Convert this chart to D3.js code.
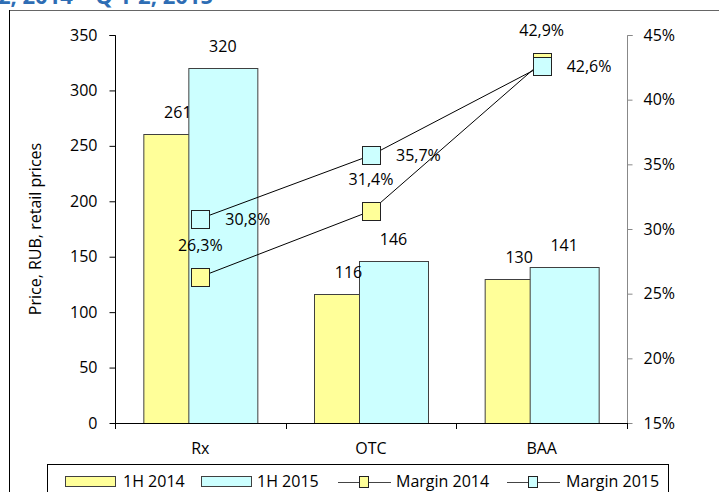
<!DOCTYPE html>
<html><head><meta charset="utf-8">
<script src="https://cdn.jsdelivr.net/npm/d3@7/dist/d3.min.js"></script>
<style>
html,body{margin:0;padding:0;background:#fff;overflow:hidden;}
svg{display:block;font-family:"Open Sans",sans-serif;}
</style></head>
<body>
<svg id="chart" width="719" height="492"></svg>
<script>
const categories = ["Rx", "OTC", "BAA"];
const price2014 = [261, 116, 130];
const price2015 = [320, 146, 141];
const margin2014 = [26.3, 31.4, 42.9];
const margin2015 = [30.8, 35.7, 42.6];
const leftTicks = [0, 50, 100, 150, 200, 250, 300, 350];
const rightTicks = [15, 20, 25, 30, 35, 40, 45];
const seriesNames = ["1H 2014", "1H 2015", "Margin 2014", "Margin 2015"];
const titleText = "Q 1-2, 2014 – Q 1-2, 2015";
const yTitle = "Price, RUB, retail prices";

const YELLOW = "#FFFF99", CYAN = "#CCFFFF", EDGE = "#404040";
const FS = 16;
const svg = d3.select("#chart");

// partial title at top (cut off in the reference)
svg.append("text").attr("x", 213).attr("y", 4).attr("text-anchor", "end")
  .attr("font-weight", "bold").attr("font-size", 22).attr("fill", "#2E6DB4").text(titleText);

// frame
svg.append("line").attr("x1", 9).attr("x2", 719).attr("y1", 10.5).attr("y2", 10.5).attr("stroke", "#666");
svg.append("line").attr("x1", 9.5).attr("x2", 9.5).attr("y1", 10).attr("y2", 492).attr("stroke", "#000");

const x0 = 115, x1 = 627, yTop = 35, yBot = 423;
const x = d3.scaleBand().domain(categories).range([x0, x1]);
const yL = d3.scaleLinear().domain([0, 350]).range([yBot, yTop]);
const yR = d3.scaleLinear().domain([15, 45]).range([yBot, yTop]);

const barW = 69, overlap = 24;
const groupW = 2 * barW - overlap;
const bx = (c, i) => x(c) + x.bandwidth() / 2 - groupW / 2 + i * (barW - overlap);

// bars
[[price2014, YELLOW], [price2015, CYAN]].forEach(([vals, col], i) => {
  svg.append("g").selectAll("rect").data(categories).join("rect")
    .attr("x", c => bx(c, i) + 0.5).attr("width", barW)
    .attr("y", (c, k) => Math.round(yL(vals[k])) + 0.5)
    .attr("height", (c, k) => yBot - Math.round(yL(vals[k])))
    .attr("fill", col).attr("stroke", EDGE).attr("stroke-width", 1);
});
// bar labels
[[price2014, 0], [price2015, 1]].forEach(([vals, i]) => {
  svg.append("g").selectAll("text").data(categories).join("text")
    .attr("x", c => bx(c, i) + barW / 2).attr("y", (c, k) => yL(vals[k]) - 16)
    .attr("text-anchor", "middle").attr("font-size", FS).attr("fill", "#000")
    .text((c, k) => vals[k]);
});

function styleAxis(g) {
  g.attr("font-family", null).attr("font-size", null);
  g.selectAll("text").attr("font-size", FS).attr("fill", "#000");
}

// axes
const gL = svg.append("g").attr("transform", `translate(${x0 + 0.5},0)`)
  .call(d3.axisLeft(yL).tickValues(leftTicks).tickSize(6).tickPadding(12));
gL.select(".domain").attr("stroke", "#000").attr("d", `M-6,${yTop + 0.5}H0V${yBot + 5}`);
styleAxis(gL);

const gR = svg.append("g").attr("transform", `translate(${x1 + 0.5},0)`)
  .call(d3.axisRight(yR).tickValues(rightTicks).tickFormat(d => d + "%").tickSize(5).tickPadding(11));
gR.select(".domain").attr("stroke", "#888").attr("d", `M5,${yTop + 0.5}H0V${yBot + 5}`);
gR.selectAll(".tick line").attr("stroke", "#888");
styleAxis(gR);

const gX = svg.append("g").attr("transform", `translate(0,${yBot + 0.5})`)
  .call(d3.axisBottom(x).tickSize(0).tickPadding(19));
gX.select(".domain").attr("stroke", "#000").attr("d", `M${x0},0H${x1}`);
styleAxis(gX);
// category boundary ticks
const bounds = categories.map(c => x(c)).concat([x1]);
svg.append("g").selectAll("line").data(bounds).join("line")
  .attr("x1", d => Math.round(d) + 0.5).attr("x2", d => Math.round(d) + 0.5)
  .attr("y1", yBot).attr("y2", yBot + 6).attr("stroke", "#000");

// y title
svg.append("text").attr("transform", `translate(41,${(yTop + yBot) / 2}) rotate(-90)`)
  .attr("text-anchor", "middle").attr("font-size", FS).text(yTitle);

// lines
const cx = c => x(c) + x.bandwidth() / 2;
const line = d3.line().x(d => cx(d[0])).y(d => yR(d[1]));
[margin2014, margin2015].forEach(vals => {
  svg.append("path").datum(categories.map((c, k) => [c, vals[k]]))
    .attr("d", line).attr("fill", "none").attr("stroke", "#000").attr("stroke-width", 1);
});
const MS = 18;
[[margin2014, YELLOW], [margin2015, CYAN]].forEach(([vals, col]) => {
  svg.append("g").selectAll("rect").data(categories).join("rect")
    .attr("x", c => Math.round(cx(c) - MS / 2) + 0.5).attr("y", (c, k) => Math.round(yR(vals[k]) - MS / 2) + 0.5)
    .attr("width", MS).attr("height", MS).attr("fill", col).attr("stroke", "#222");
});
const fmt = v => v.toFixed(1).replace(".", ",") + "%";
// margin 2014 labels above
svg.append("g").selectAll("text").data(categories).join("text")
  .attr("x", c => cx(c)).attr("y", (c, k) => yR(margin2014[k]) - 26)
  .attr("text-anchor", "middle").attr("font-size", FS).text((c, k) => fmt(margin2014[k]));
// margin 2015 labels right
svg.append("g").selectAll("text").data(categories).join("text")
  .attr("x", c => cx(c) + 25).attr("y", (c, k) => yR(margin2015[k]) + 6)
  .attr("font-size", FS).text((c, k) => fmt(margin2015[k]));

// legend
const lg = svg.append("g");
lg.append("rect").attr("x", 47.5).attr("y", 464.5).attr("width", 621).attr("height", 40)
  .attr("fill", "#fff").attr("stroke", "#000");
const ly = 482;
lg.append("rect").attr("x", 65.5).attr("y", ly - 5.5).attr("width", 50).attr("height", 10).attr("fill", YELLOW).attr("stroke", EDGE);
lg.append("text").attr("x", 123).attr("y", 487).attr("font-size", FS).text(seriesNames[0]);
lg.append("rect").attr("x", 201.5).attr("y", ly - 5.5).attr("width", 50).attr("height", 10).attr("fill", CYAN).attr("stroke", EDGE);
lg.append("text").attr("x", 257).attr("y", 487).attr("font-size", FS).text(seriesNames[1]);
[[338, YELLOW, 396, seriesNames[2]], [507, CYAN, 566, seriesNames[3]]].forEach(([lx, col, tx, name]) => {
  lg.append("line").attr("x1", lx).attr("x2", lx + 53).attr("y1", ly + 0.5).attr("y2", ly + 0.5).attr("stroke", "#444");
  lg.append("rect").attr("x", lx + 21.5).attr("y", ly - 5.5).attr("width", 9).attr("height", 11).attr("fill", col).attr("stroke", "#222");
  lg.append("text").attr("x", tx).attr("y", 487).attr("font-size", FS).text(name);
});
</script>
</body></html>
